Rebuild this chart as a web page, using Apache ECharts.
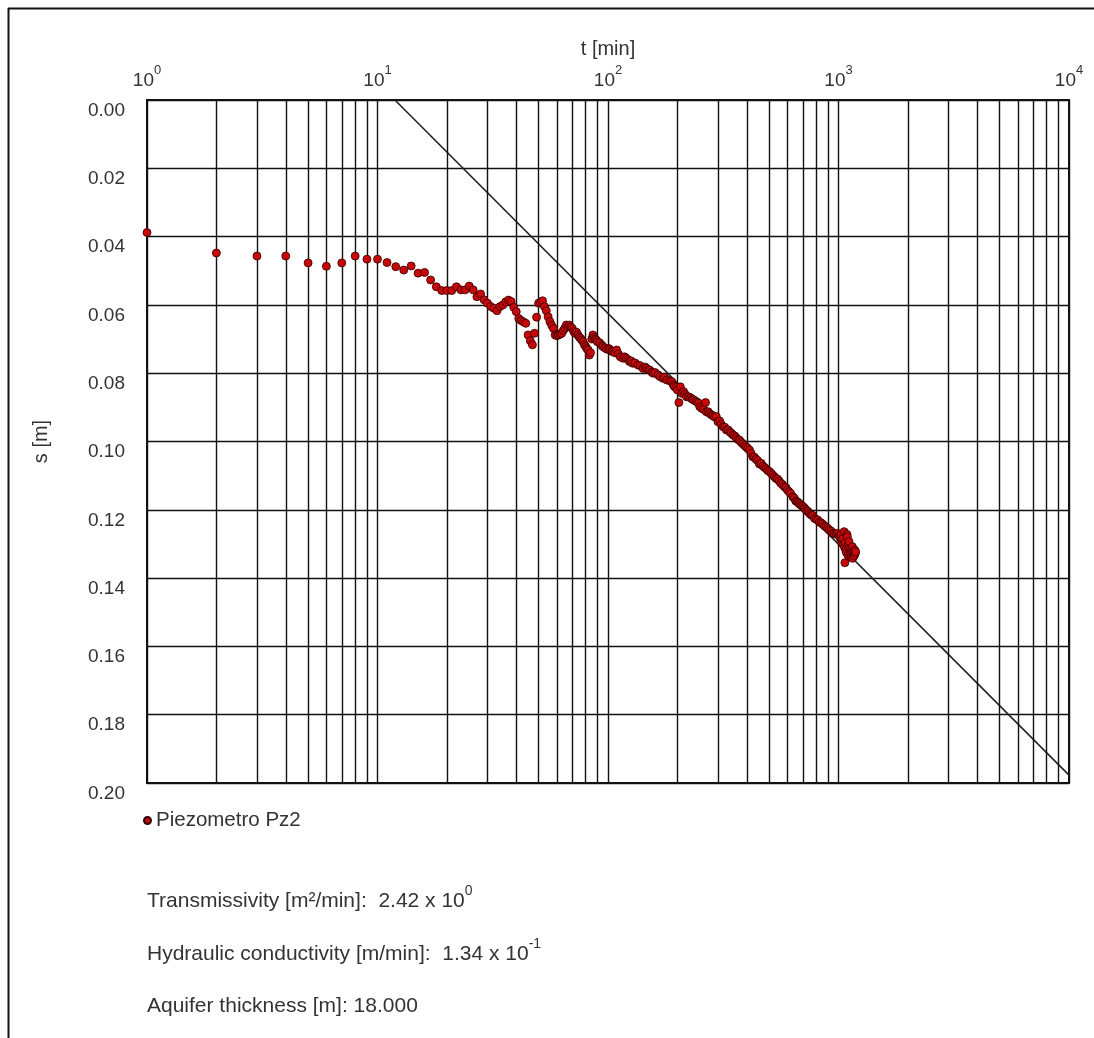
<!DOCTYPE html>
<html>
<head>
<meta charset="utf-8">
<script src="https://cdn.jsdelivr.net/npm/echarts@6/dist/echarts.min.js"></script>
<style>
html,body{margin:0;padding:0;background:#fff;}
#chart{width:1094px;height:1038px;}
</style>
</head>
<body>
<div id="chart"></div>
<script>
// ---- data ----
const seriesName = 'Piezometro Pz2';
const xTitle = 't [min]';
const yTitle = 's [m]';
const xMin = 1, xMax = 10000;
const yMin = 0, yMax = 0.20, yStep = 0.02;
const minorTicks = [2,3,4,5,6,7,8,9,20,30,40,50,60,70,80,90,200,300,400,500,600,700,800,900,2000,3000,4000,5000,6000,7000,8000,9000];
const fitLine = [[11.9, 0], [10000, 0.1977]];
const infoLines = [
  ['Transmissivity [m²/min]:  2.42 x 10', '0'],
  ['Hydraulic conductivity [m/min]:  1.34 x 10', '-1'],
  ['Aquifer thickness [m]: 18.000', '']
];
const piezometro = [
[1,0.0388],[2,0.0448],[3,0.0457],[4,0.0457],[5,0.0477],[6,0.0487],[7,0.0477],[8,0.0457],[9,0.0466],[10,0.0466],
[11,0.0476],[12,0.0488],[13,0.0498],[14,0.0486],[15,0.0507],[16,0.0505],[17,0.0527],[18,0.0547],[19,0.0558],[20,0.0558],
[21,0.0558],[22,0.0547],[23,0.0556],[24,0.0556],[25,0.0545],[26,0.0556],[27,0.0576],[28,0.0568],[29,0.0585],[30,0.0595],
[31,0.0605],[32,0.0610],[33,0.0617],[34,0.0605],[35,0.0600],[36,0.0591],[37,0.0586],[38,0.0590],[39,0.0607],[40,0.0620],
[41,0.0640],[42,0.0646],[43,0.0650],[44,0.0654],[45,0.0688],[46,0.0705],[47,0.0717],[48,0.0683],[49,0.0636],[50,0.0595],
[51,0.0592],[52,0.0588],[53,0.0605],[54,0.0617],[55,0.0635],[56,0.0649],[57,0.0660],[58,0.0669],[59,0.0688],[60,0.0690],
[61,0.0688],[62,0.0686],[63,0.0683],[64,0.0675],[65,0.0668],[66,0.0659],[67,0.0664],[68,0.0659],[69,0.0665],[70,0.0669],
[71,0.0678],[72,0.0683],[73,0.0680],[74,0.0688],[75,0.0694],[76,0.0698],[77,0.0703],[78,0.0708],[79,0.0717],[80,0.0722],
[81,0.0728],[82,0.0732],[83,0.0747],[84,0.0740],[85,0.0700],[86,0.0688],[87,0.0695],[88,0.0700],[89,0.0703],[90,0.0708],
[92,0.0711],[94,0.0718],[95,0.0722],[97,0.0726],[99,0.0730],[101,0.0728],[102,0.0732],[104,0.0736],[105,0.0737],[107,0.0740],
[109,0.0732],[111,0.0744],[113,0.0752],[116,0.0756],[118,0.0752],[120,0.0756],[122,0.0760],[124,0.0766],[126,0.0764],[128,0.0771],
[131,0.0770],[135,0.0776],[138,0.0778],[142,0.0786],[145,0.0782],[147,0.0786],[150,0.0790],[152,0.0791],[155,0.0797],[157,0.0800],
[160,0.0798],[165,0.0805],[168,0.0810],[173,0.0815],[176,0.0812],[180,0.0820],[185,0.0822],[189,0.0825],[192,0.0834],[194,0.0839],
[197,0.0842],[200,0.0849],[203,0.0886],[206,0.0840],[209,0.0859],[213,0.0854],[216,0.0862],[219,0.0869],[224,0.0869],[228,0.0872],
[232,0.0876],[235,0.0878],[240,0.0882],[244,0.0885],[247,0.0888],[250,0.0898],[255,0.0903],[260,0.0906],[265,0.0886],[267,0.0913],
[272,0.0913],[276,0.0918],[281,0.0922],[286,0.0925],[290,0.0928],[295,0.0927],[300,0.0942],[305,0.0940],[310,0.0950],[316,0.0957],
[321,0.0958],[326,0.0966],[332,0.0966],[338,0.0972],[343,0.0976],[349,0.0981],[355,0.0984],[360,0.0989],[366,0.0994],[372,0.0996],
[378,0.1002],[385,0.1007],[392,0.1012],[398,0.1016],[404,0.1020],[411,0.1025],[418,0.1035],[425,0.1045],[432,0.1046],[439,0.1052],
[446,0.1056],[454,0.1066],[462,0.1064],[470,0.1072],[478,0.1076],[486,0.1080],[493,0.1085],[501,0.1088],[510,0.1093],[518,0.1098],
[527,0.1103],[535,0.1108],[544,0.1110],[553,0.1116],[562,0.1122],[571,0.1126],[581,0.1132],[591,0.1135],[600,0.1142],[610,0.1147],
[620,0.1152],[634,0.1162],[643,0.1166],[652,0.1174],[660,0.1176],[667,0.1178],[675,0.1182],[684,0.1184],[692,0.1188],[701,0.1190],
[710,0.1194],[718,0.1198],[727,0.1203],[736,0.1204],[745,0.1209],[755,0.1213],[765,0.1216],[774,0.1217],[786,0.1225],[800,0.1228],
[813,0.1230],[826,0.1236],[840,0.1238],[854,0.1242],[868,0.1247],[883,0.1250],[897,0.1254],[912,0.1259],[928,0.1262],[943,0.1268],
[958,0.1270],[975,0.1271],[991,0.1269],[1005,0.1276],[1015,0.1282],[1024,0.1274],[1030,0.1290],[1035,0.1298],[1041,0.1285],[1050,0.1302],
[1058,0.1264],[1062,0.1310],[1066,0.1355],[1070,0.1295],[1075,0.1318],[1082,0.1325],[1088,0.1272],[1093,0.1279],[1098,0.1332],[1104,0.1300],
[1111,0.1293],[1115,0.1337],[1120,0.1320],[1126,0.1312],[1132,0.1328],[1138,0.1340],[1143,0.1318],[1149,0.1308],[1152,0.1342],[1158,0.1330],
[1163,0.1322],[1170,0.1335],[1176,0.1318],[1182,0.1328],[1187,0.1323]
];

// ---- chart ----
const FONT = '"Liberation Sans", Arial, sans-serif';
const chart = echarts.init(document.getElementById('chart'), null, {renderer: 'canvas'});

const infoTops = [884, 937, 996];
const infoGraphics = infoLines.map((ln, i) => ({
  type: 'text',
  left: 147,
  top: infoTops[i],
  style: {
    text: '{b|' + ln[0] + '}' + (ln[1] ? '{s|' + ln[1] + '}' : ''),
    rich: {
      b: {fontSize: 21, fontFamily: FONT, fill: '#333', lineHeight: 28, verticalAlign: 'bottom'},
      s: {fontSize: 14, fontFamily: FONT, fill: '#333', lineHeight: 14, verticalAlign: 'top'}
    }
  }
}));

const option = {
  backgroundColor: '#fff',
  animation: false,
  textStyle: {fontFamily: FONT},
  grid: {left: 147, top: 100, width: 922, height: 683, show: true, borderColor: '#111', borderWidth: 2, backgroundColor: 'transparent'},
  legend: {
    data: [seriesName],
    left: 138, top: 805,
    icon: 'circle', itemWidth: 7, itemHeight: 7, itemGap: 4,
    textStyle: {fontSize: 20.5, fontFamily: FONT, color: '#333', padding: [0,0,0,0]}
  },
  xAxis: {
    type: 'log', logBase: 10, min: xMin, max: xMax, position: 'top',
    name: xTitle, nameLocation: 'middle', nameGap: 41,
    nameTextStyle: {fontSize: 20, color: '#333', fontFamily: FONT},
    axisLine: {show: true, lineStyle: {color: '#111', width: 2}},
    axisTick: {show: false},
    axisLabel: {
      margin: 10, color: '#333',
      formatter: v => '{b|10}{s|' + Math.round(Math.log10(v)) + '}',
      rich: {
        b: {fontSize: 19, fontFamily: FONT, color: '#333', lineHeight: 26, verticalAlign: 'bottom'},
        s: {fontSize: 13, fontFamily: FONT, color: '#333', lineHeight: 13, verticalAlign: 'top'}
      }
    },
    splitLine: {show: true, lineStyle: {color: '#111', width: 1.4}}
  },
  yAxis: {
    type: 'value', inverse: true, min: yMin, max: yMax, interval: yStep,
    name: yTitle, nameLocation: 'middle', nameGap: 96,
    nameTextStyle: {fontSize: 20, color: '#333', fontFamily: FONT},
    axisLine: {show: true, lineStyle: {color: '#111', width: 2}},
    axisTick: {show: false},
    axisLabel: {fontSize: 19, color: '#333', margin: 22, verticalAlign: 'top', padding: [1,0,0,0], formatter: v => v.toFixed(2)},
    splitLine: {show: true, lineStyle: {color: '#111', width: 1.4}}
  },
  series: [
    {
      name: 'minor', type: 'line', data: [], silent: true,
      markLine: {
        silent: true, symbol: ['none', 'none'], label: {show: false},
        lineStyle: {color: '#111', width: 1.4, type: 'solid'},
        animation: false,
        data: minorTicks.map(v => ({xAxis: v}))
      }
    },
    {
      name: 'fit', type: 'line', data: fitLine, symbol: 'none', silent: true,
      lineStyle: {color: '#222', width: 1.6}, z: 3
    },
    {
      name: seriesName, type: 'scatter', data: piezometro, symbol: 'circle', symbolSize: 8, clip: false,
      itemStyle: {color: '#c80808', borderColor: '#300000', borderWidth: 0.8, opacity: 1}, z: 5
    }
  ],
  graphic: [
    {type: 'line', shape: {x1: 8, y1: 8.5, x2: 1094, y2: 8.5}, style: {stroke: '#111', lineWidth: 2}},
    {type: 'line', shape: {x1: 8.5, y1: 8, x2: 8.5, y2: 1038}, style: {stroke: '#111', lineWidth: 2}}
  ].concat(infoGraphics)
};
chart.setOption(option);
</script>
</body>
</html>
